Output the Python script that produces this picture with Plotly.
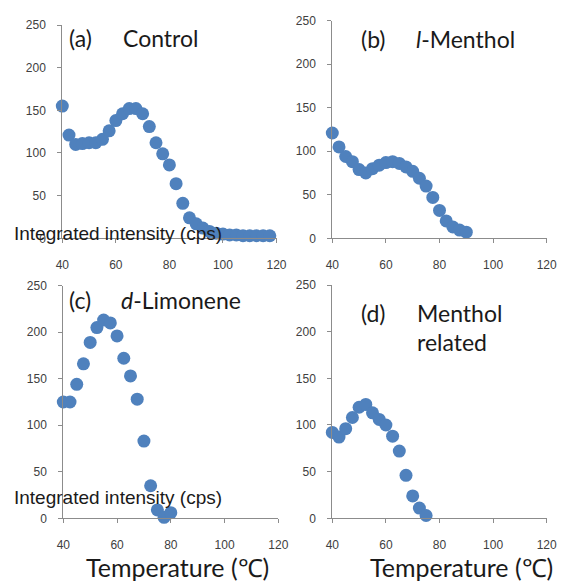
import plotly.graph_objects as go

W, H = 562, 581
OFF = 0  # body margin is removed by the post script below

# ---- data ----
temp_a = [40, 42.5, 45, 47.5, 50, 52.5, 55, 57.5, 60, 62.5, 65, 67.5, 70, 72.5, 75, 77.5, 80,
          82.5, 85, 87.5, 90, 92.5, 95, 97.5, 100, 102.5, 105, 107.5, 110, 112.5, 115, 117.5]
control = [155, 121, 110, 111, 112, 112, 116, 126, 138, 146, 152, 152, 146, 131, 112, 99, 86,
           64, 41, 24, 17, 12, 8, 6, 5, 4, 4, 3, 3, 3, 3, 3]

temp_b = [40, 42.5, 45, 47.5, 50, 52.5, 55, 57.5, 60, 62.5, 65, 67.5, 70, 72.5, 75, 77.5, 80,
          82.5, 85, 87.5, 90]
menthol = [121, 105, 94, 88, 79, 75, 80, 84, 87, 88, 86, 82, 77, 69, 60, 47, 32, 20, 13, 9.5, 7]

temp_c = [40, 42.5, 45, 47.5, 50, 52.5, 55, 57.5, 60, 62.5, 65, 67.5, 70, 72.5, 75, 77.5, 80]
limonene = [125, 125, 144, 166, 189, 205, 213, 210, 196, 172, 153, 128, 83, 35, 9, 1, 6]

temp_d = [40, 42.5, 45, 47.5, 50, 52.5, 55, 57.5, 60, 62.5, 65, 67.5, 70, 72.5, 75]
menthol_rel = [92, 87, 96, 108, 119, 122, 113, 106, 100, 88, 72, 46, 24, 11, 3]

x_ticks = [40, 60, 80, 100, 120]
y_ticks = [0, 50, 100, 150, 200, 250]


def fx(px):
    return (px - OFF) / W


def fy(py):
    return 1 - (py - OFF) / H


# ---- panel boxes in page pixels: (x0, x1, ytop, ybottom) ----
boxes = [
    (62.3, 276.5, 25.0, 238.3),
    (332.3, 546.7, 20.7, 238.3),
    (63.3, 278.3, 285.7, 518.3),
    (332.3, 546.7, 285.0, 518.3),
]
series = [(temp_a, control), (temp_b, menthol), (temp_c, limonene), (temp_d, menthol_rel)]

BLUE = "rgb(79,129,189)"
AXC = "#8c8c8c"
TICKFONT = dict(family="Liberation Sans, Arial, sans-serif", size=12, color="#404040")

fig = go.Figure()
layout = dict(width=W, height=H, margin=dict(l=0, r=0, t=0, b=0, autoexpand=False),
              paper_bgcolor="white", plot_bgcolor="white", showlegend=False)

for i, ((x0, x1, yt, yb), (xs, ys)) in enumerate(zip(boxes, series), start=1):
    sfx = "" if i == 1 else str(i)
    fig.add_trace(go.Scatter(x=xs, y=ys, mode="markers", xaxis="x" + sfx, yaxis="y" + sfx,
                             marker=dict(size=13, color=BLUE), cliponaxis=False,
                             hoverinfo="skip"))
    layout["xaxis" + sfx] = dict(domain=[fx(x0), fx(x1)], range=[40, 120], anchor="y" + sfx,
                                 tickvals=x_ticks, showgrid=False, zeroline=False,
                                 showline=True, linecolor=AXC, linewidth=1,
                                 ticks="outside", ticklen=4, tickcolor=AXC, automargin=False,
                                 tickfont=TICKFONT, ticklabelstandoff=11)
    layout["yaxis" + sfx] = dict(domain=[fy(yb), fy(yt)], range=[0, 250],
                                 anchor="x" + sfx, tickvals=y_ticks, showgrid=False,
                                 zeroline=False, showline=True, linecolor=AXC, linewidth=1,
                                 ticks="outside", ticklen=4, tickcolor=AXC, automargin=False,
                                 tickfont=TICKFONT, ticklabelstandoff=9)

fig.update_layout(**layout)

LBL = dict(family="Lato, Open Sans, sans-serif", size=23, color="#1a1a1a")


def ann(text, px, py, xanchor="left", font=LBL):
    fig.add_annotation(text=text, x=fx(px), y=fy(py), xref="paper", yref="paper",
                       xanchor=xanchor, yanchor="middle", showarrow=False, font=font)


ann("(a)", 67, 38)
ann("Control", 121, 38)
ann("(b)", 359, 39)
ann("<i>l</i>-Menthol", 414, 39)
ann("(c)", 67, 300)
ann("<i>d</i>-Limonene", 119, 300)
ann("(d)", 359, 313)
ann("Menthol", 415, 313)
ann("related", 415, 342)

YT = dict(family="Liberation Sans, Arial, sans-serif", size=19, color="#1a1a1a")
ann("Integrated intensity (cps)", 117.5, 233, xanchor="center", font=YT)
ann("Integrated intensity (cps)", 117.5, 497, xanchor="center", font=YT)

XT = dict(family="Lato, Open Sans, sans-serif", size=25, color="#1a1a1a")
ann("Temperature (℃)", 177, 567, xanchor="center", font=XT)
ann("Temperature (℃)", 461, 567, xanchor="center", font=XT)

fig.write_html("out.html", config={"displayModeBar": False},
               post_script="document.body.style.margin='0px';")
